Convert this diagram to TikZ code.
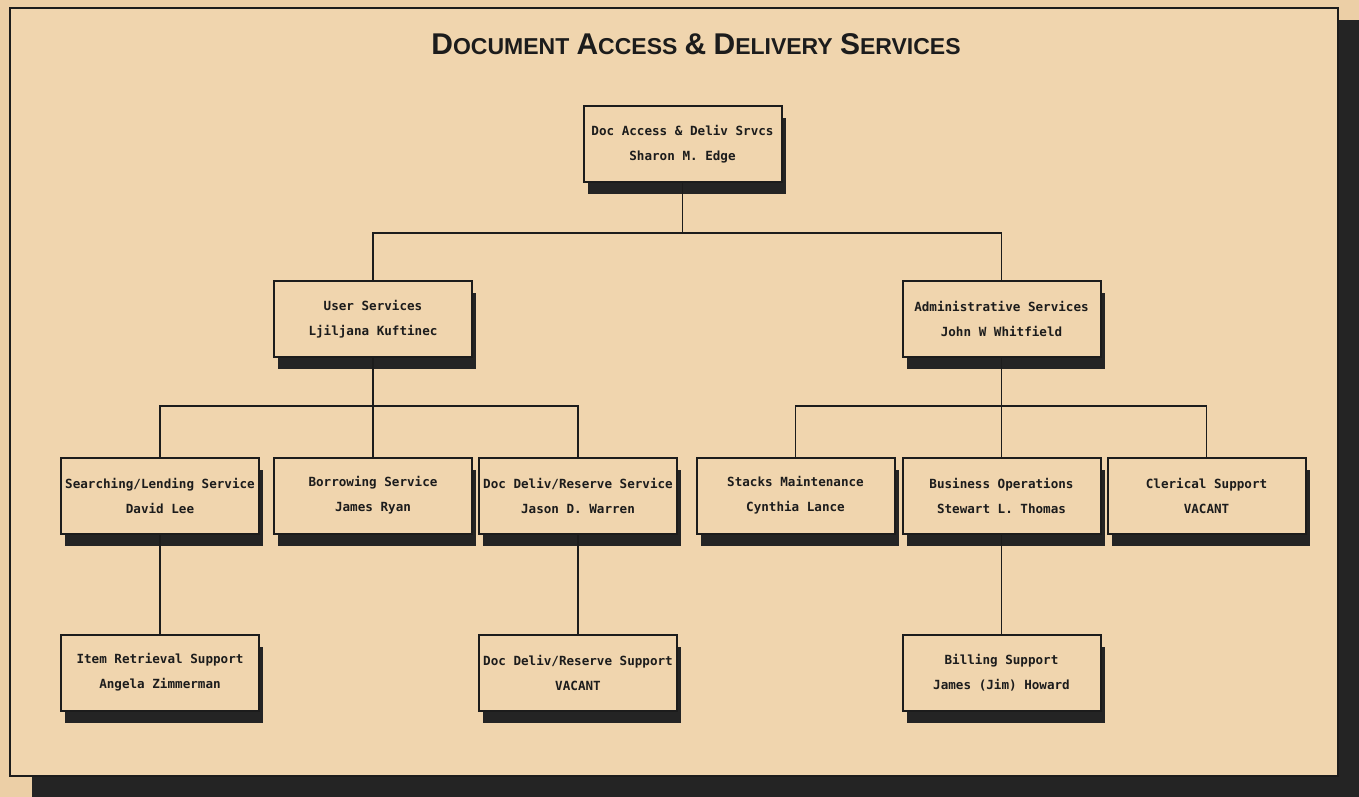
\documentclass[tikz,border=0pt]{standalone}
\usepackage{fontspec}
\usetikzlibrary{shadows}
\newfontfamily\boxfont{DejaVu Sans Mono}
\newfontfamily\titlefont{Liberation Sans}
\newcommand\TitBig[1]{{\fontsize{15}{18}\selectfont #1}}
\newcommand\TitSm[1]{{\fontsize{11.5}{14}\selectfont #1}}
\definecolor{paper}{HTML}{ECCFA6}
\definecolor{panel}{HTML}{F0D5AE}
\definecolor{ink}{HTML}{1C1C1C}
\definecolor{darkshade}{HTML}{242424}
\tikzset{
  orgbox/.style={draw=ink, line width=1pt, fill=panel, minimum width=99pt, minimum height=38pt,
    inner sep=0pt, align=center, font=\boxfont\bfseries\fontsize{6.3}{12.5}\selectfont, text=ink,
    drop shadow={shadow xshift=2pt, shadow yshift=-6pt, fill=darkshade, opacity=1}},
  link/.style={draw=ink, line width=0.8pt}
}
\begin{document}
\begin{tikzpicture}[x=0.5pt, y=-0.5pt]
\useasboundingbox (0,0) rectangle (1359,797);
\fill[paper] (0,0) rectangle (1359,797);
% outer frame with heavy shadow
\fill[darkshade] (32,20) rectangle (1359,797);
\filldraw[fill=panel, draw=ink, line width=1.2pt] (10,8) rectangle (1338,776);
% title
\node[anchor=base, inner sep=0pt, text=ink, font=\titlefont\bfseries\fontsize{13}{16}\selectfont] (title) at (696,55)
  {\TitBig{D}\TitSm{OCUMENT} \TitBig{A}\TitSm{CCESS} \TitBig{\&} \TitBig{D}\TitSm{ELIVERY} \TitBig{S}\TitSm{ERVICES}};
% boxes
\node[orgbox] (top) at (682.5,144) {Doc Access \& Deliv Srvcs\\Sharon M. Edge};
\node[orgbox] (user) at (373,319) {User Services\\Ljiljana Kuftinec};
\node[orgbox] (admin) at (1001.5,318.5) {Administrative Services\\John W Whitfield};
\node[orgbox] (search) at (160,495.5) {Searching/Lending Service\\David Lee};
\node[orgbox] (borrow) at (373,495.5) {Borrowing Service\\James Ryan};
\node[orgbox] (docserv) at (578,495.5) {Doc Deliv/Reserve Service\\Jason D. Warren};
\node[orgbox] (stacks) at (795.5,495.5) {Stacks Maintenance\\Cynthia Lance};
\node[orgbox] (business) at (1001.5,495.5) {Business Operations\\Stewart L. Thomas};
\node[orgbox] (clerical) at (1206.5,495.5) {Clerical Support\\VACANT};
\node[orgbox] (item) at (160,672.5) {Item Retrieval Support\\Angela Zimmerman};
\node[orgbox] (ddsupport) at (578,672.5) {Doc Deliv/Reserve Support\\VACANT};
\node[orgbox] (billing) at (1001.5,672.5) {Billing Support\\James (Jim) Howard};
% junctions
\coordinate (j1) at (682.5,233);
\coordinate (j2) at (373,406);
\coordinate (j3) at (1001.5,406);
% connectors
\draw[link] (top.south) -- (j1);
\draw[link] (j1) -| (user.north);
\draw[link] (j1) -| (admin.north);
\draw[link] (user.south) -- (j2);
\draw[link] (j2) -| (search.north);
\draw[link] (j2) -- (borrow.north);
\draw[link] (j2) -| (docserv.north);
\draw[link] (admin.south) -- (j3);
\draw[link] (j3) -| (stacks.north);
\draw[link] (j3) -- (business.north);
\draw[link] (j3) -| (clerical.north);
\draw[link] (search.south) -- (item.north);
\draw[link] (docserv.south) -- (ddsupport.north);
\draw[link] (business.south) -- (billing.north);
\end{tikzpicture}
\end{document}
